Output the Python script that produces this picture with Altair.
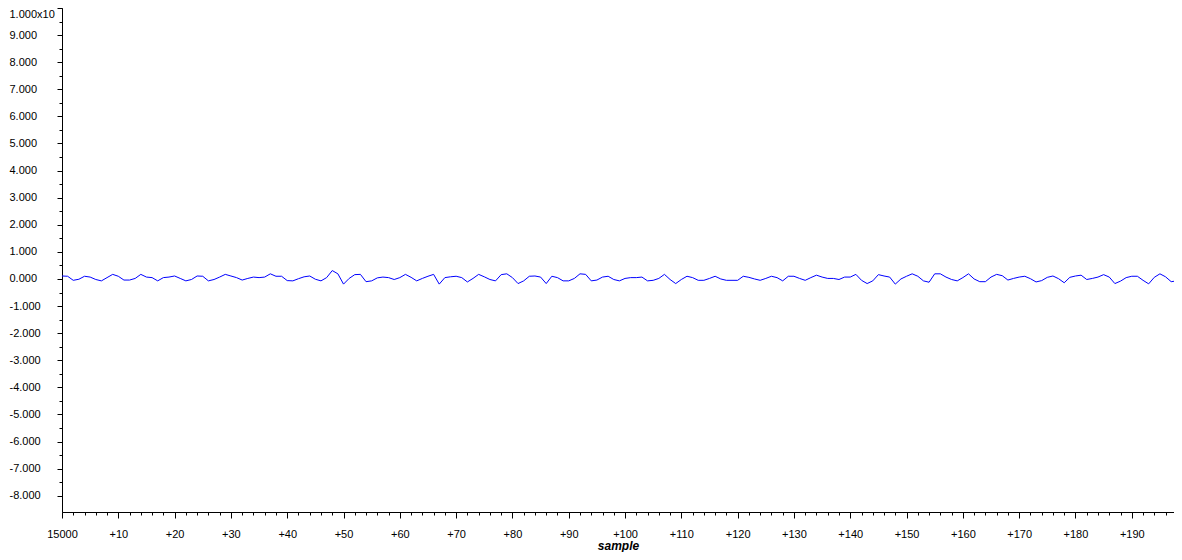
import altair as alt
import pandas as pd

# sample offsets from 15000 and their values
start_sample = 15000
values = [
    0.11, 0.10, -0.05, -0.01, 0.10, 0.07, -0.02, -0.07, 0.05, 0.17,
    0.10, -0.04, -0.04, 0.02, 0.17, 0.07, 0.05, -0.07, 0.05, 0.07,
    0.11, 0.02, -0.07, -0.02, 0.11, 0.10, -0.07, -0.02, 0.07, 0.17,
    0.11, 0.05, -0.04, 0.02, 0.07, 0.05, 0.07, 0.19, 0.10, 0.10,
    -0.06, -0.07, 0.01, 0.08, 0.11, -0.01, -0.07, 0.05, 0.31, 0.19,
    -0.19, 0.02, 0.16, 0.17, -0.10, -0.07, 0.04, 0.07, 0.05, -0.02,
    0.05, 0.17, 0.06, -0.07, 0.02, 0.10, 0.17, -0.19, 0.05, 0.08,
    0.10, 0.05, -0.11, 0.02, 0.17, 0.08, -0.02, -0.07, 0.16, 0.19,
    0.05, -0.17, -0.07, 0.10, 0.11, 0.07, -0.17, 0.10, 0.05, -0.07,
    -0.07, 0.02, 0.19, 0.17, -0.07, -0.04, 0.07, 0.10, -0.02, -0.07,
    0.02, 0.05, 0.05, 0.07, -0.07, -0.05, 0.02, 0.17, -0.02, -0.17,
    -0.02, 0.10, 0.05, -0.05, -0.05, 0.02, 0.10, 0.00, -0.05, -0.05,
    -0.05, 0.10, 0.06, 0.00, -0.05, 0.02, 0.10, 0.05, -0.07, 0.10,
    0.10, 0.02, -0.05, 0.05, 0.14, 0.07, 0.02, 0.02, -0.02, 0.07,
    0.07, 0.17, -0.05, -0.17, -0.07, 0.16, 0.11, 0.07, -0.19, 0.00,
    0.10, 0.19, 0.10, -0.07, -0.12, 0.19, 0.19, 0.07, -0.02, -0.07,
    0.05, 0.19, 0.00, -0.10, -0.10, 0.07, 0.17, 0.12, -0.04, 0.02,
    0.07, 0.10, 0.01, -0.11, -0.06, 0.06, 0.11, 0.01, -0.14, 0.06,
    0.11, 0.14, -0.02, 0.02, 0.07, 0.16, 0.07, -0.17, -0.08, 0.05,
    0.10, 0.10, -0.05, -0.18, 0.06, 0.19, 0.08, -0.10, -0.07,
]
samples = [start_sample + i for i in range(len(values))]

x_major = list(range(15000, 15191, 10))
x_minor = list(range(15000, 15198, 2))
y_major = list(range(-8, 11))
y_minor = [v / 2 for v in range(-16, 21)]

df = pd.DataFrame({"sample": samples, "value": values})

x_scale = alt.Scale(domain=[15000, 15197.5], nice=False, zero=False)
y_scale = alt.Scale(domain=[-8.6, 10], nice=False, zero=False)

FONT = "Liberation Sans"

line = alt.Chart(df).mark_line(color="#0000ff", strokeWidth=1, clip=True).encode(
    x=alt.X(
        "sample:Q",
        scale=x_scale,
        axis=alt.Axis(
            orient="bottom",
            values=x_major,
            labelExpr="datum.value == 15000 ? '15000' : '+' + (datum.value - 15000)",
            tickSize=6,
            labelPadding=10,
            labelFlush=False,
            grid=False,
            title="sample",
            titleFont=FONT,
            titleFontSize=12,
            titleFontWeight="bold",
            titleFontStyle="italic",
            titleColor="#000000",
            titlePadding=1,
        ),
    ),
    y=alt.Y(
        "value:Q",
        scale=y_scale,
        axis=alt.Axis(
            orient="left",
            values=y_major,
            labelExpr="datum.value == 10 ? '1.000x10' : (datum.value < 0 ? '-' : '') + format(abs(datum.value), '.3f')",
            tickSize=5,
            labelAlign="left",
            labelPadding=48,
            labelFlush=True,
            grid=False,
            title=None,
        ),
    ),
)

minor = alt.Chart(df).mark_line(opacity=0).encode(
    x=alt.X(
        "sample:Q",
        scale=x_scale,
        axis=alt.Axis(
            orient="bottom",
            values=x_minor,
            labels=False,
            tickSize=3,
            domain=False,
            grid=False,
            title=None,
        ),
    ),
    y=alt.Y(
        "value:Q",
        scale=y_scale,
        axis=alt.Axis(
            orient="left",
            values=y_minor,
            labels=False,
            tickSize=3,
            domain=False,
            grid=False,
            title=None,
        ),
    ),
)

chart = (
    alt.layer(line, minor)
    .resolve_axis(x="independent", y="independent")
    .properties(
        width=1112,
        height=504,
        padding={"left": 54, "top": 0, "right": 0, "bottom": 40},
        autosize=alt.AutoSizeParams(type="none"),
        background="#ffffff",
    )
    .configure_view(stroke=None)
    .configure_axis(
        domainColor="#000000",
        domainWidth=1,
        tickColor="#000000",
        tickWidth=1,
        labelFont=FONT,
        labelFontSize=11,
        labelColor="#000000",
    )
)

chart.save("out.html", embed_options={"renderer": "svg", "actions": False})
